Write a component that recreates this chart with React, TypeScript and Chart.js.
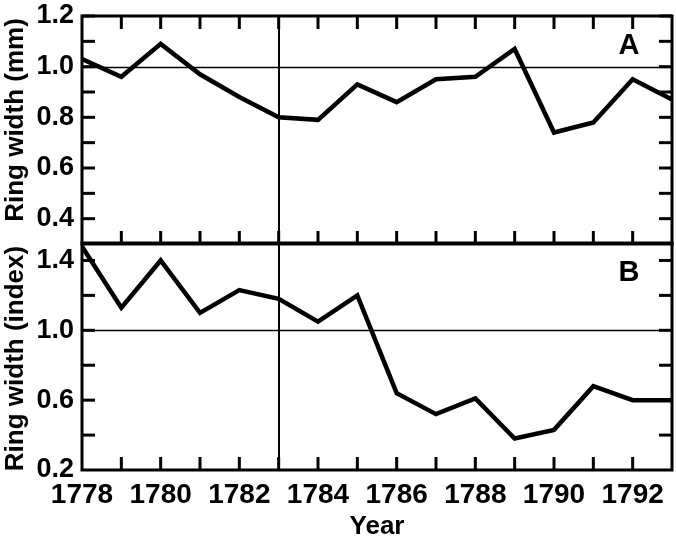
import React, { useEffect, useRef } from "react";
import { Chart, registerables } from "chart.js";

Chart.register(...registerables);

// ---- Data ----
const years = [1778, 1779, 1780, 1781, 1782, 1783, 1784, 1785, 1786, 1787, 1788, 1789, 1790, 1791, 1792, 1793];
const ringWidthMm = [1.03, 0.96, 1.09, 0.97, 0.88, 0.8, 0.79, 0.93, 0.86, 0.95, 0.96, 1.07, 0.74, 0.78, 0.95, 0.87];
const ringWidthIndex = [1.48, 1.13, 1.4, 1.1, 1.23, 1.18, 1.05, 1.2, 0.64, 0.52, 0.61, 0.38, 0.43, 0.68, 0.6, 0.6];

const xTickLabels = [1778, 1780, 1782, 1784, 1786, 1788, 1790, 1792];
const xTickMarks = [1779, 1780, 1781, 1782, 1783, 1784, 1785, 1786, 1787, 1788, 1789, 1790, 1791, 1792];

const yTicksA = [0.4, 0.6, 0.8, 1.0, 1.2];
const yMarksA = [0.4, 0.5, 0.6, 0.7, 0.8, 0.9, 1.0, 1.1, 1.2];
const yTicksB = [0.2, 0.6, 1.0, 1.4];
const yMarksB = [0.4, 0.6, 0.8, 1.0, 1.2, 1.4];

const referenceLevel = 1.0;
const markerYear = 1783;
const panelLabels = ["A", "B"];
const yTitles = ["Ring width (mm)", "Ring width (index)"];
const xTitle = "Year";

const FONT = '"Liberation Sans", Arial, Helvetica, sans-serif';

const framePlugin = {
  id: "frame",
  beforeDatasetsDraw(chart: any, _args: any, opts: any) {
    const { ctx, chartArea: a, scales } = chart;
    const x = scales.x;
    const y = scales.y;
    ctx.save();
    ctx.strokeStyle = "#000";
    ctx.lineWidth = 1.5;
    const yr = Math.round(y.getPixelForValue(opts.refLevel)) + 0.5;
    ctx.beginPath();
    ctx.moveTo(a.left, yr);
    ctx.lineTo(a.right, yr);
    ctx.stroke();
    ctx.lineWidth = 2;
    const xm = Math.round(x.getPixelForValue(opts.markerYear));
    ctx.beginPath();
    ctx.moveTo(xm, a.top);
    ctx.lineTo(xm, a.bottom);
    ctx.stroke();
    ctx.restore();
  },
  afterDatasetsDraw(chart: any, _args: any, opts: any) {
    const { ctx, chartArea: a, scales } = chart;
    const x = scales.x;
    const y = scales.y;
    const L = 13;
    ctx.save();
    ctx.strokeStyle = "#000";
    ctx.fillStyle = "#000";
    ctx.lineWidth = 3;
    ctx.lineCap = "butt";
    const seg = (x1: number, y1: number, x2: number, y2: number) => {
      ctx.beginPath();
      ctx.moveTo(x1, y1);
      ctx.lineTo(x2, y2);
      ctx.stroke();
    };
    for (const v of opts.yMarks) {
      const py = y.getPixelForValue(v);
      seg(a.left, py, a.left + L, py);
      seg(a.right - L, py, a.right, py);
    }
    for (const v of opts.xMarks) {
      const px = x.getPixelForValue(v);
      if (opts.xTop) seg(px, a.top, px, a.top + L);
      seg(px, a.bottom - L, px, a.bottom);
    }
    ctx.strokeRect(a.left, a.top, a.right - a.left, a.bottom - a.top);

    // panel label
    ctx.font = `bold 29px ${FONT}`;
    ctx.textAlign = "center";
    ctx.textBaseline = "middle";
    ctx.fillText(opts.label, a.right - 43, a.top + 30);

    // y title
    ctx.font = `bold 26px ${FONT}`;
    ctx.translate(16, (a.top + a.bottom) / 2 + opts.titleShift);
    ctx.rotate(-Math.PI / 2);
    ctx.fillText(opts.yTitle, 0, 0);
    ctx.restore();
  },
};

function makeConfig(idx: number) {
  const isTop = idx === 0;
  const values = isTop ? ringWidthMm : ringWidthIndex;
  const yTicks = isTop ? yTicksA : yTicksB;
  return {
    type: "line" as const,
    data: {
      datasets: [
        {
          data: years.map((yr, i) => ({ x: yr, y: values[i] })),
          borderColor: "#000",
          borderWidth: 4.5,
          pointRadius: 0,
          tension: 0,
          fill: false,
        },
      ],
    },
    options: {
      responsive: false,
      animation: false as const,
      devicePixelRatio: 1,
      layout: {
        padding: isTop
          ? { top: 16, right: 4, bottom: 8, left: 0 }
          : { top: 7, right: 4, bottom: 0, left: 0 },
      },
      plugins: {
        legend: { display: false },
        tooltip: { enabled: false },
        frame: {
          refLevel: referenceLevel,
          markerYear: markerYear,
          yMarks: isTop ? yMarksA : yMarksB,
          xMarks: xTickMarks,
          xTop: isTop,
          label: panelLabels[idx],
          yTitle: yTitles[idx],
          titleShift: isTop ? -10 : 2,
        },
      },
      scales: {
        x: {
          type: "linear" as const,
          min: years[0],
          max: years[years.length - 1],
          display: !isTop,
          grid: { display: false, drawTicks: false },
          border: { display: false },
          afterBuildTicks: (s: any) => {
            s.ticks = xTickLabels.map((v) => ({ value: v }));
          },
          afterFit: (s: any) => {
            if (!isTop) s.height = 70;
            s.paddingLeft = 0;
            s.paddingRight = 0;
          },
          ticks: {
            autoSkip: false,
            maxRotation: 0,
            minRotation: 0,
            padding: 8,
            color: "#000",
            font: { family: FONT, size: 28, weight: "bold" as const },
            callback: (v: any) => String(v),
          },
          title: {
            display: !isTop,
            text: xTitle,
            color: "#000",
            font: { family: FONT, size: 26, weight: "bold" as const, lineHeight: 1 },
            padding: { top: 0, bottom: 0 },
          },
        },
        y: {
          type: "linear" as const,
          min: isTop ? 0.3 : 0.2,
          max: isTop ? 1.2 : 1.5,
          grid: { display: false, drawTicks: false },
          border: { display: false },
          afterBuildTicks: (s: any) => {
            s.ticks = yTicks.map((v) => ({ value: v }));
          },
          afterFit: (s: any) => {
            s.width = 82;
            s.paddingTop = 0;
            s.paddingBottom = 0;
          },
          ticks: {
            padding: 8,
            color: "#000",
            font: { family: FONT, size: 27, weight: "bold" as const },
            callback: (v: any) => Number(v).toFixed(1),
          },
        },
      },
    },
    plugins: [framePlugin],
  };
}

export default function App() {
  const topRef = useRef<HTMLCanvasElement>(null);
  const botRef = useRef<HTMLCanvasElement>(null);

  useEffect(() => {
    const c1 = new Chart(topRef.current as HTMLCanvasElement, makeConfig(0) as any);
    const c2 = new Chart(botRef.current as HTMLCanvasElement, makeConfig(1) as any);
    return () => {
      c1.destroy();
      c2.destroy();
    };
  }, []);

  return (
    <div style={{ position: "absolute", left: 0, top: 0, width: 676, height: 540, background: "#fff" }}>
      <canvas ref={topRef} width={676} height={252} style={{ position: "absolute", left: 0, top: 0 }} />
      <canvas ref={botRef} width={676} height={304} style={{ position: "absolute", left: 0, top: 236 }} />
    </div>
  );
}
